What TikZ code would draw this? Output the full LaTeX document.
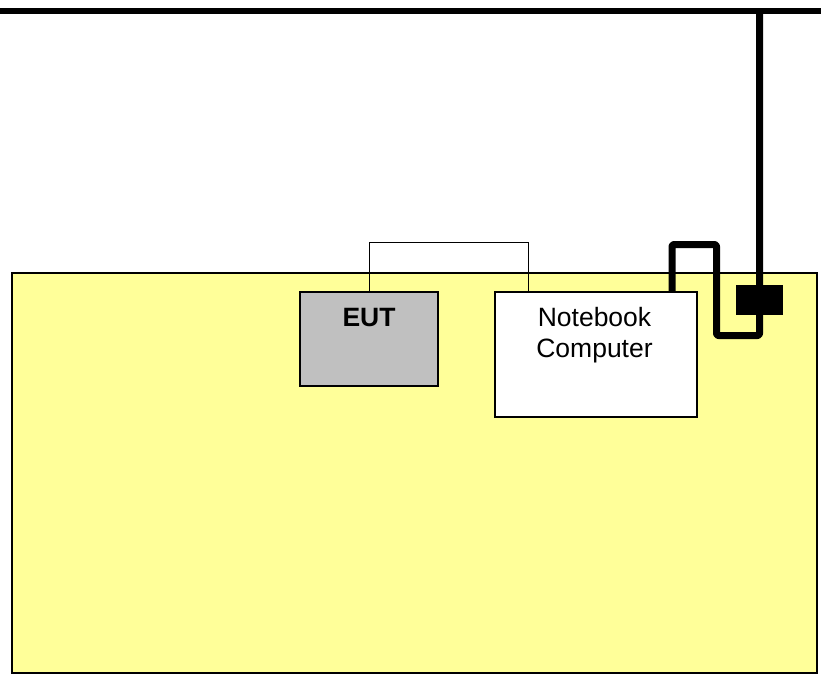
\documentclass[tikz,border=0pt]{standalone}
\usepackage{fontspec}
\setmainfont{Liberation Sans}
\begin{document}
\begin{tikzpicture}[x=1pt,y=-1pt,
  table/.style={draw=black,line width=2pt,fill=tableyellow},
  box/.style={draw=black,line width=1.5pt,inner sep=0pt,anchor=north west},
  thick cable/.style={line width=7pt,line join=round,rounded corners=2pt},
  thin cable/.style={line width=1pt}]
\definecolor{tableyellow}{RGB}{255,255,153}
\definecolor{eutgray}{RGB}{192,192,192}
\useasboundingbox (0,0) rectangle (821,675);
% table
\draw[table] (12,273) rectangle (817,673);
% top bar
\draw[line width=6pt] (0,11) -- (821,11);
% EUT
\node[box,fill=eutgray,minimum width=138pt,minimum height=94pt] (eut) at (299,291) {};
\node[font=\bfseries\fontsize{26.5}{31}\selectfont,anchor=base] (euttxt) at (369,326.5) {EUT};
% Notebook
\node[box,fill=white,minimum width=202pt,minimum height=125pt] (nb) at (494,291) {};
\node[font=\fontsize{26.5}{31}\selectfont,align=center,anchor=north] (nbtxt) at (594.5,304) {Notebook\\Computer};
% thin cable
\coordinate (c1) at (369,291);
\coordinate (c2) at (528,291);
\draw[thin cable] (c1) -- (369,242) -- (528,242) -- (c2);
% black box (filter/connector)
\node[fill=black,minimum width=47pt,minimum height=30pt,inner sep=0pt,anchor=north west] (blk) at (736,285) {};
% thick cable
\coordinate (t1) at (672,291);
\coordinate (t2) at (759.5,11);
\draw[thick cable] (t1) -- (672,244.5) -- (716.5,244.5) -- (716.5,335.5) -- (759.5,335.5) -- (t2);
\end{tikzpicture}
\end{document}
